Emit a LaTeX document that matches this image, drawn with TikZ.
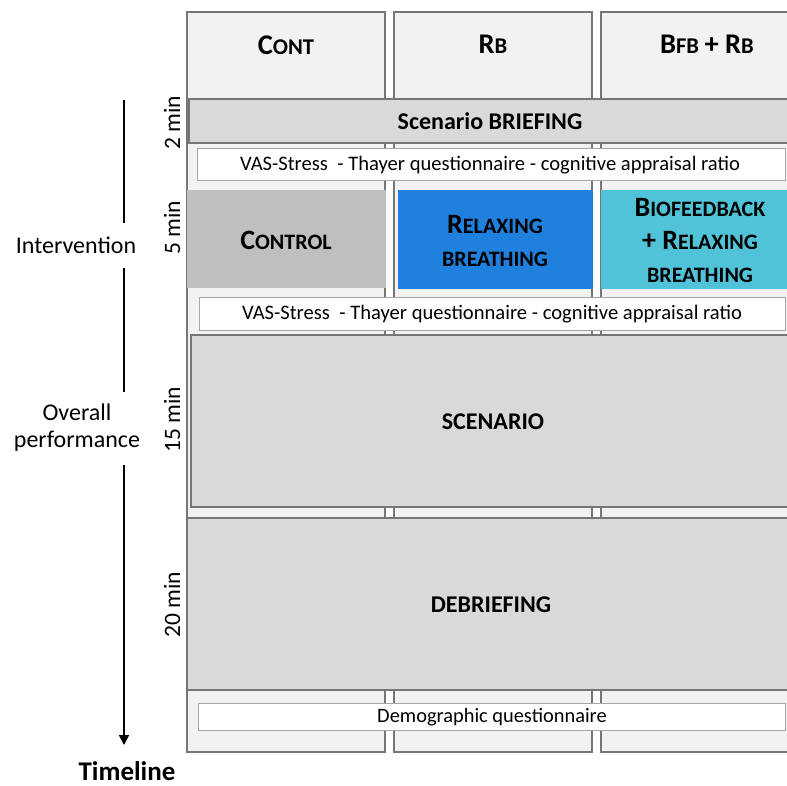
\documentclass[tikz,border=0pt]{standalone}
\usepackage{fontspec}
\setmainfont{Carlito}
\usetikzlibrary{arrows.meta}
\definecolor{colfill}{HTML}{F2F2F2}
\definecolor{colline}{HTML}{767676}
\definecolor{barfill}{HTML}{D9D9D9}
\definecolor{ctrlfill}{HTML}{BFBFBF}
\definecolor{rbfill}{HTML}{1F80DD}
\definecolor{bfbfill}{HTML}{50C3D8}
\definecolor{vasline}{HTML}{A6A6A6}
\newcommand\sck[2]{{\fontsize{28.5}{30}\selectfont #1}{\fontsize{22.5}{24}\selectfont #2}}
\newcommand\sckb[2]{{\fontsize{28}{30}\selectfont #1}{\fontsize{22}{24}\selectfont #2}}
\tikzset{
  x=1pt, y=-1pt,
  colbox/.style={draw=colline, fill=colfill, line width=1.6pt},
  barbox/.style={draw=colline, fill=barfill, line width=1.4pt},
  vasbox/.style={draw=vasline, fill=white, line width=1pt},
  lbl/.style={font=\fontsize{24}{27}\selectfont, align=center, inner sep=0pt},
  boldlbl/.style={font=\bfseries\fontsize{24}{27}\selectfont, align=center, inner sep=0pt},
  vaslbl/.style={font=\fontsize{20.6}{23}\selectfont, inner sep=0pt},
  minlbl/.style={font=\fontsize{23.5}{26}\selectfont, rotate=90, inner sep=0pt},
  tl/.style={line width=1.6pt, black}
}
\begin{document}
\begin{tikzpicture}
\useasboundingbox (0,0) rectangle (787,786);
\clip (0,0) rectangle (787,786);
% columns
\draw[colbox] (187,12) rectangle (385,752);
\draw[colbox] (394,12) rectangle (592,752);
\draw[colbox] (601,12) rectangle (820,752);
\node[boldlbl] (hcont) at (286,45) {\sck{C}{ONT}};
\node[boldlbl] (hrb) at (493,44) {\sck{R}{B}};
\node[boldlbl] (hbfb) at (707,44) {\sck{B}{FB} {\fontsize{28.5}{30}\selectfont + R}{\fontsize{22.5}{24}\selectfont B}};
% briefing
\draw[barbox] (189,99) rectangle (820,143);
\node[boldlbl] (brief) at (490,121) {Scenario BRIEFING};
\draw[vasbox] (197,149) rectangle (785,181);
\node[vaslbl] (vas1) at (490,165) {VAS-Stress\ \ - Thayer questionnaire - cognitive appraisal ratio};
% interventions
\fill[ctrlfill] (187,190) rectangle (386,288);
\fill[rbfill] (398,190) rectangle (593,289);
\fill[bfbfill] (601,190) rectangle (820,289);
\node[boldlbl] (ctrl) at (286,240) {\sckb{C}{ONTROL}};
\node[boldlbl, font=\bfseries\fontsize{22}{33}\selectfont] (relax) at (495,241) {\sckb{R}{ELAXING}\\{\fontsize{22}{24}\selectfont BREATHING}};
\node[boldlbl, font=\bfseries\fontsize{22}{33}\selectfont] (bfb) at (700,240) {\sckb{B}{IOFEEDBACK}\\\sckb{+ R}{ELAXING}\\{\fontsize{22}{24}\selectfont BREATHING}};
\draw[vasbox] (199,298) rectangle (785,330);
\node[vaslbl] (vas2) at (492,314) {VAS-Stress\ \ - Thayer questionnaire - cognitive appraisal ratio};
% scenario
\draw[barbox] (191,335) rectangle (820,507);
\node[boldlbl] (scen) at (493,422) {SCENARIO};
\draw[barbox] (187,518) rectangle (820,690);
\node[boldlbl] (debrief) at (491,605) {DEBRIEFING};
\draw[vasbox] (198,703) rectangle (785,730);
\node[vaslbl, font=\fontsize{20.4}{23}\selectfont] (demo) at (492,717) {Demographic questionnaire};
% durations
\node[minlbl] (m2) at (172,123) {2 min};
\node[minlbl] (m5) at (172,228) {5 min};
\node[minlbl] (m15) at (172,420) {15 min};
\node[minlbl] (m20) at (172,605) {20 min};
% timeline
\node[lbl] (interv) at (76,245) {Intervention};
\node[lbl, font=\fontsize{24}{27}\selectfont] (overall) at (77,428) {Overall\\performance};
\node[boldlbl, font=\bfseries\fontsize{27}{30}\selectfont] (timeline) at (127,771) {Timeline};
\coordinate (t0) at (124,100);
\coordinate (t1) at (124,223);
\coordinate (t2) at (124,268);
\coordinate (t3) at (124,392);
\coordinate (t4) at (124,465);
\coordinate (t5) at (124,745);
\draw[tl] (t0) -- (t1);
\draw[tl] (t2) -- (t3);
\draw[tl, -{Triangle[length=10pt,width=10pt]}] (t4) -- (t5);
\end{tikzpicture}
\end{document}
